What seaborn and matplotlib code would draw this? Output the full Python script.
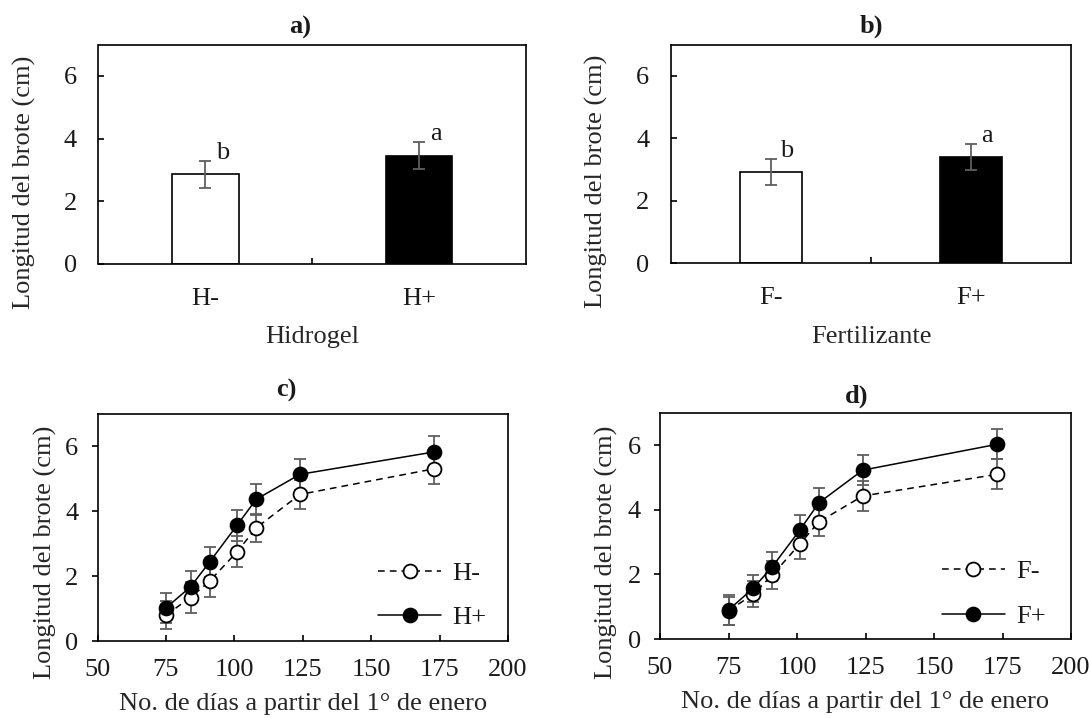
import numpy as np
import pandas as pd
import matplotlib
matplotlib.use("Agg")
import matplotlib.pyplot as plt
import seaborn as sns

# ---------------- data ----------------
hid_labels = ["H-", "H+"]
hid_vals = [2.86, 3.45]
hid_err = [0.43, 0.43]
hid_letters = ["b", "a"]

fer_labels = ["F-", "F+"]
fer_vals = [2.93, 3.39]
fer_err = [0.42, 0.42]
fer_letters = ["b", "a"]

days = [75, 84, 91, 101, 108, 124, 173]
h_minus = [0.80, 1.34, 1.85, 2.75, 3.49, 4.52, 5.31]
h_minus_err = [0.44, 0.47, 0.49, 0.48, 0.44, 0.46, 0.46]
h_plus = [1.02, 1.67, 2.44, 3.57, 4.37, 5.14, 5.83]
h_plus_err = [0.45, 0.48, 0.46, 0.48, 0.48, 0.47, 0.48]

f_minus = [0.87, 1.39, 1.98, 2.94, 3.63, 4.43, 5.10]
f_minus_err = [0.44, 0.40, 0.43, 0.47, 0.44, 0.46, 0.46]
f_plus = [0.90, 1.57, 2.24, 3.37, 4.22, 5.23, 6.03]
f_plus_err = [0.46, 0.42, 0.44, 0.47, 0.46, 0.46, 0.47]

ylabel = "Longitud del brote (cm)"
xlabel_days = "No. de días a partir del 1° de enero"

# ---------------- style ----------------
sns.set_style("white")
plt.rcParams["font.family"] = ["Liberation Serif", "DejaVu Serif"]
FS = 19.0
plt.rcParams["font.size"] = FS
plt.rcParams["axes.linewidth"] = 1.2
plt.rcParams["axes.edgecolor"] = "black"
plt.rcParams["text.color"] = "#1a1a1a"
plt.rcParams["xtick.color"] = "black"
plt.rcParams["ytick.color"] = "black"
plt.rcParams["xtick.labelcolor"] = "#1a1a1a"
plt.rcParams["ytick.labelcolor"] = "#1a1a1a"

ERR_COLOR = "#5f5f5f"

fig = plt.figure(figsize=(10.89, 7.18), dpi=100)
W, H = 1089.0, 718.0


def add_axes_px(left, right, top, bottom):
    return fig.add_axes([left / W, (H - bottom) / H, (right - left) / W, (bottom - top) / H])


ax_a = add_axes_px(98.5, 526, 44.5, 264)
ax_b = add_axes_px(671, 1071, 44.5, 263.3)
ax_c = add_axes_px(97.5, 508, 414, 641)
ax_d = add_axes_px(660, 1071, 413, 639)


def bar_panel(ax, labels, vals, errs, letters, xlab, title, title_x, title_y, ylab_x, ylab_y):
    df = pd.DataFrame({"trat": labels, "val": vals})
    sns.barplot(data=df, x="trat", y="val", hue="trat", palette=["white", "black"],
                edgecolor="black", linewidth=1.2, width=0.31, errorbar=None,
                legend=False, ax=ax)
    ax.errorbar(x=np.arange(len(labels)), y=vals, yerr=errs, fmt="none",
                ecolor=ERR_COLOR, elinewidth=1.3, capsize=4.3, capthick=1.3, zorder=3)
    for i, (v, e, t) in enumerate(zip(vals, errs, letters)):
        ax.text(i + 0.08, v + e + 0.25, t, ha="center", va="center", fontsize=FS)
    ax.set_ylim(0, 7)
    ax.set_xlim(-0.5, 1.5)
    ax.set_yticks([0, 2, 4, 6])
    ax.set_xticks([0, 1])
    ax.set_xticklabels(labels)
    ax.set_xticks([0.5], minor=True)
    ax.tick_params(axis="x", which="major", length=0, pad=17, labelsize=FS)
    ax.tick_params(axis="x", which="minor", direction="in", length=4.3, width=1.2, bottom=True)
    ax.tick_params(axis="y", direction="in", length=4.3, width=1.2, pad=15.5, labelsize=FS, left=True)
    ax.set_xlabel(xlab, fontsize=FS, labelpad=12)
    ax.set_ylabel(ylabel, fontsize=FS)
    ax.yaxis.label.set_va("center")
    ax.yaxis.set_label_coords(ylab_x, ylab_y)
    for s in ax.spines.values():
        s.set_visible(True)
        s.set_linewidth(1.2)
    ax.set_title(title, fontsize=FS, fontweight="bold", x=title_x, y=title_y, va="center", pad=0)


bar_panel(ax_a, hid_labels, hid_vals, hid_err, hid_letters, "Hidrogel", "a)",
          (300 - 98.5) / 427.5, (264 - 27) / 219.5, -0.174, 0.374)
bar_panel(ax_b, fer_labels, fer_vals, fer_err, fer_letters, "Fertilizante", "b)",
          0.5, (263.3 - 26.5) / 218.8, -0.1875, 0.374)


def line_panel(ax, minus, minus_err, plus, plus_err, labels, title, title_x, title_y,
               ylab_x, ylab_y, leg_xy):
    ax.errorbar(days, minus, yerr=minus_err, fmt="none", ecolor=ERR_COLOR,
                elinewidth=1.3, capsize=4.3, capthick=1.3, zorder=1)
    ax.errorbar(days, plus, yerr=plus_err, fmt="none", ecolor=ERR_COLOR,
                elinewidth=1.3, capsize=4.3, capthick=1.3, zorder=1)
    sns.lineplot(x=days, y=minus, ax=ax, color="black", linewidth=1.1,
                 linestyle=(0, (4.4, 3.3)), marker="o", markersize=10,
                 markerfacecolor="white", markeredgecolor="black", markeredgewidth=1.3,
                 errorbar=None, label=labels[0], zorder=2)
    sns.lineplot(x=days, y=plus, ax=ax, color="black", linewidth=1.1,
                 linestyle="-", marker="o", markersize=10,
                 markerfacecolor="black", markeredgecolor="black", markeredgewidth=1.3,
                 errorbar=None, label=labels[1], zorder=2.5)
    ax.set_xlim(50, 200)
    ax.set_ylim(0, 7)
    ax.set_xticks([50, 75, 100, 125, 150, 175, 200])
    ax.set_yticks([0, 2, 4, 6])
    ax.tick_params(axis="x", direction="in", length=4.3, width=1.2, pad=13, labelsize=FS, bottom=True)
    ax.tick_params(axis="y", direction="out", length=4.3, width=1.2, pad=9.5, labelsize=FS, left=True)
    ax.set_xlabel(xlabel_days, fontsize=FS, labelpad=8.5)
    ax.set_ylabel(ylabel, fontsize=FS)
    ax.yaxis.label.set_va("center")
    ax.yaxis.set_label_coords(ylab_x, ylab_y)
    for s in ax.spines.values():
        s.set_visible(True)
        s.set_linewidth(1.2)
    handles = [l for l in ax.get_lines() if l.get_label() in labels]
    ax.legend(handles, labels, loc="center left", bbox_to_anchor=leg_xy, frameon=False,
              borderpad=0, borderaxespad=0, handlelength=2.4, handletextpad=0.42,
              labelspacing=0.8, fontsize=FS, numpoints=1)
    ax.set_title(title, fontsize=FS, fontweight="bold", x=title_x, y=title_y, va="center", pad=0)


line_panel(ax_c, h_minus, h_minus_err, h_plus, h_plus_err, ["H-", "H+"], "c)",
           (286.7 - 97.5) / 410.5, (641 - 390) / 227, -0.128, 0.39, (0.683, 0.201))
line_panel(ax_d, f_minus, f_minus_err, f_plus, f_plus_err, ["F-", "F+"], "d)",
           (856.7 - 660) / 411, (639 - 396) / 226, -0.130, 0.385, (0.685, 0.200))

fig.savefig("out.png", dpi=100)
